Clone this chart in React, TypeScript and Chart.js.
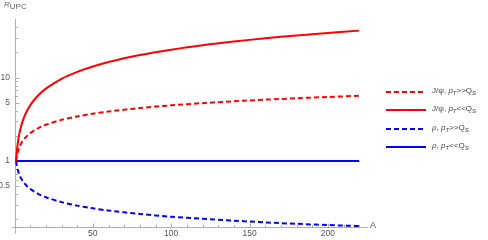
import React, { useEffect, useRef } from "react";
import { Chart, registerables } from "chart.js";

Chart.register(...registerables);

// Nuclear mass number A
const massNumbers = [1, 1.5, 2, 3, 4, 5, 7, 10, 15, 20, 30, 40, 50, 60, 80, 100, 120, 140, 160, 180, 200, 220];

// R_UPC values
const jpsiHighPt = [1, 1.145, 1.26, 1.442, 1.587, 1.71, 1.913, 2.154, 2.466, 2.714, 3.107, 3.42, 3.684, 3.915, 4.309, 4.642, 4.932, 5.192, 5.429, 5.646, 5.848, 6.037];
const jpsiLowPt = [1, 1.31, 1.587, 2.08, 2.52, 2.924, 3.659, 4.642, 6.082, 7.368, 9.655, 11.7, 13.57, 15.33, 18.57, 21.54, 24.33, 26.96, 29.47, 31.87, 34.2, 36.43];
const rhoHighPt = [1, 0.874, 0.794, 0.693, 0.63, 0.585, 0.523, 0.464, 0.405, 0.368, 0.322, 0.292, 0.271, 0.255, 0.232, 0.215, 0.203, 0.193, 0.184, 0.177, 0.171, 0.166];
const rhoLowPt = [1, 1, 1, 1, 1, 1, 1, 1, 1, 1, 1, 1, 1, 1, 1, 1, 1, 1, 1, 1, 1, 1];

// Tick labels / tick marks
const xMajorTicks = [50, 100, 150, 200];
const xMinorTicks = [10, 20, 30, 40, 60, 70, 80, 90, 110, 120, 130, 140, 160, 170, 180, 190, 210, 220];
const yMajorTicks = [0.5, 1, 5, 10];
const yMinorTicks = [0.2, 0.3, 0.4, 0.6, 0.7, 0.8, 0.9, 2, 3, 4, 6, 7, 8, 9, 20, 30, 40];

const RED = "#ff0000";
const BLUE = "#0000ff";
const AXIS = "#b0b0b0";
const TEXT = "#555555";
const FONT = "'Liberation Sans', Arial, sans-serif";

const seriesStyles = [
  { color: RED, dash: [5, 3] },
  { color: RED, dash: [] },
  { color: BLUE, dash: [5, 3] },
  { color: BLUE, dash: [] },
];
const legendRows = [92, 110, 129, 147];

const axesPlugin = {
  id: "mmaAxes",
  beforeDatasetsDraw(chart: any) {
    const { ctx, chartArea } = chart;
    const xs = chart.scales.x;
    const ys = chart.scales.y;
    ctx.save();
    ctx.strokeStyle = AXIS;
    ctx.lineWidth = 1;
    const x0 = Math.round(xs.getPixelForValue(0)) + 0.5;
    const yb = Math.round(chartArea.bottom) + 0.5;
    ctx.beginPath();
    ctx.moveTo(chartArea.left, yb);
    ctx.lineTo(chartArea.right, yb);
    ctx.moveTo(x0, chartArea.top);
    ctx.lineTo(x0, yb + 6);
    xMajorTicks.forEach((v) => {
      const px = Math.round(xs.getPixelForValue(v)) + 0.5;
      ctx.moveTo(px, yb);
      ctx.lineTo(px, yb - 4);
    });
    xMinorTicks.forEach((v) => {
      const px = Math.round(xs.getPixelForValue(v)) + 0.5;
      ctx.moveTo(px, yb);
      ctx.lineTo(px, yb - 2.5);
    });
    yMajorTicks.forEach((v) => {
      const py = Math.round(ys.getPixelForValue(v)) + 0.5;
      ctx.moveTo(x0, py);
      ctx.lineTo(x0 + 4, py);
    });
    yMinorTicks.forEach((v) => {
      const py = Math.round(ys.getPixelForValue(v)) + 0.5;
      ctx.moveTo(x0, py);
      ctx.lineTo(x0 + 2.5, py);
    });
    ctx.stroke();
    ctx.restore();
  },
  afterDraw(chart: any) {
    const { ctx } = chart;
    ctx.save();
    ctx.lineWidth = 2;
    seriesStyles.forEach((s, i) => {
      ctx.strokeStyle = s.color;
      ctx.setLineDash(s.dash);
      ctx.beginPath();
      ctx.moveTo(386, legendRows[i]);
      ctx.lineTo(426, legendRows[i]);
      ctx.stroke();
    });
    ctx.restore();
  },
};

const sub: React.CSSProperties = { fontSize: "6px", position: "relative", top: "2px" };

function LegendLabel({ meson, high }: { meson: string; high: boolean }) {
  return (
    <span>
      {meson === "rho" ? <i>ρ</i> : <span>J/ψ</span>}, <i>p</i>
      <i style={sub}>T</i>
      {high ? ">>" : "<<"}Q<i style={sub}>S</i>
    </span>
  );
}

export default function App() {
  const ref = useRef<HTMLCanvasElement | null>(null);
  useEffect(() => {
    if (!ref.current) return;
    const mk = (data: number[], i: number) => ({
      data: massNumbers.map((a, k) => ({ x: a, y: data[k] })),
      borderColor: seriesStyles[i].color,
      borderDash: seriesStyles[i].dash,
      borderWidth: 2,
      pointRadius: 0,
      tension: 0.3,
      fill: false,
      clip: 4,
    });
    const chart = new Chart(ref.current, {
      type: "line",
      data: {
        datasets: [mk(jpsiHighPt, 0), mk(jpsiLowPt, 1), mk(rhoHighPt, 2), mk(rhoLowPt, 3)],
      },
      options: {
        animation: false,
        responsive: false,
        maintainAspectRatio: false,
        layout: { padding: { left: 0, right: 120, top: 19, bottom: 0 } },
        plugins: { legend: { display: false }, tooltip: { enabled: false } },
        scales: {
          x: {
            type: "linear",
            min: -1.6,
            max: 225.6,
            grid: { display: false, drawTicks: false },
            border: { display: false },
            ticks: {
              padding: 2,
              color: TEXT,
              font: { family: FONT, size: 8.5 },
              maxRotation: 0,
              autoSkip: false,
              callback: (v: any) => String(v),
            },
            afterBuildTicks: (s: any) => {
              s.ticks = xMajorTicks.map((v) => ({ value: v }));
            },
            afterFit: (s: any) => {
              s.height = 13;
            },
          },
          y: {
            type: "logarithmic",
            min: 0.162,
            max: 50.2,
            grid: { display: false, drawTicks: false },
            border: { display: false },
            ticks: {
              padding: 2,
              color: TEXT,
              font: { family: FONT, size: 8.5 },
              autoSkip: false,
              callback: (v: any) => String(v),
            },
            afterBuildTicks: (s: any) => {
              s.ticks = yMajorTicks.map((v) => ({ value: v }));
            },
            afterFit: (s: any) => {
              s.width = 12;
            },
          },
        },
      },
      plugins: [axesPlugin],
    } as any);
    return () => chart.destroy();
  }, []);

  const labelStyle: React.CSSProperties = {
    position: "absolute",
    left: 432,
    fontFamily: FONT,
    fontSize: "8px",
    lineHeight: "10px",
    color: "#444",
    whiteSpace: "nowrap",
  };

  return (
    <div style={{ position: "absolute", left: 0, top: 0, width: 488, height: 240, background: "#fff" }}>
      <canvas ref={ref} width={488} height={240} style={{ width: 488, height: 240, display: "block" }} />
      <div style={{ position: "absolute", left: 4, top: 0, fontFamily: FONT, fontSize: "8px", lineHeight: "10px", color: "#666", whiteSpace: "nowrap" }}>
        <i>R</i>
        <span style={{ position: "relative", top: "2px" }}>UPC</span>
      </div>
      <div style={{ position: "absolute", left: 370, top: 220, fontFamily: FONT, fontSize: "9px", lineHeight: "11px", color: "#555" }}>A</div>
      <div style={{ ...labelStyle, top: legendRows[0] - 6 }}>
        <LegendLabel meson="jpsi" high={true} />
      </div>
      <div style={{ ...labelStyle, top: legendRows[1] - 6 }}>
        <LegendLabel meson="jpsi" high={false} />
      </div>
      <div style={{ ...labelStyle, top: legendRows[2] - 6 }}>
        <LegendLabel meson="rho" high={true} />
      </div>
      <div style={{ ...labelStyle, top: legendRows[3] - 6 }}>
        <LegendLabel meson="rho" high={false} />
      </div>
    </div>
  );
}
